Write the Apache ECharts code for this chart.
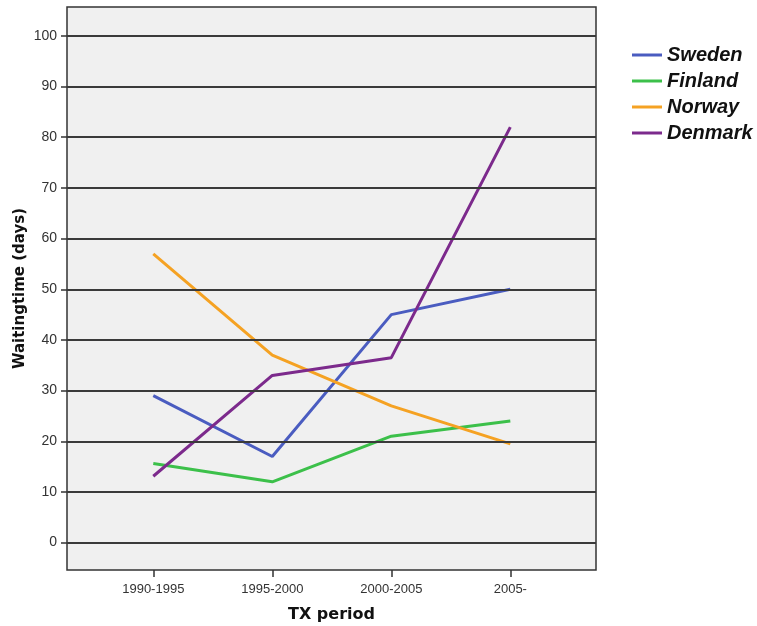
<!DOCTYPE html>
<html>
<head>
<meta charset="utf-8">
<script src="https://cdn.jsdelivr.net/npm/echarts@6/dist/echarts.min.js"></script>
<style>
  html, body { margin: 0; padding: 0; background: #ffffff; }
  #chart { width: 757px; height: 626px; }
</style>
</head>
<body>
<div id="chart"></div>
<script>
// Transplant periods and mean waiting time per country
const periods = ['1990-1995', '1995-2000', '2000-2005', '2005-'];
const sweden  = [29, 17, 45, 50];
const finland = [15.6, 12, 21, 24];
const norway  = [57, 37, 27, 19.5];
const denmark = [13.1, 33, 36.5, 82];
const yTicks  = [0, 10, 20, 30, 40, 50, 60, 70, 80, 90, 100];

const seriesDefs = [
  { name: 'Sweden',  data: sweden,  color: '#4a5cc0' },
  { name: 'Finland', data: finland, color: '#3cc04a' },
  { name: 'Norway',  data: norway,  color: '#f5a223' },
  { name: 'Denmark', data: denmark, color: '#7c2a8c' }
];

const chart = echarts.init(document.getElementById('chart'), null, { renderer: 'canvas' });

chart.setOption({
  backgroundColor: '#ffffff',
  animation: false,
  grid: {
    left: 67, top: 7, width: 529, height: 563,
    outerBoundsMode: 'none', containLabel: false,
    show: true, backgroundColor: '#f0f0f0',
    borderColor: '#333333', borderWidth: 1.5
  },
  legend: {
    orient: 'vertical',
    left: 627, top: 40,
    itemWidth: 30, itemHeight: 3, itemGap: 6,
    icon: 'rect',
    textStyle: {
      fontFamily: 'Liberation Sans', fontSize: 20, fontStyle: 'italic',
      fontWeight: 'bold', color: '#111111'
    },
    data: seriesDefs.map(s => s.name)
  },
  xAxis: {
    type: 'value',
    min: -0.725, max: 3.72,
    name: 'TX period', nameLocation: 'middle', nameGap: 37, nameMoveOverlap: false,
    nameTextStyle: { fontFamily: 'DejaVu Sans', fontSize: 16, fontWeight: 'bold', color: '#111111' },
    splitLine: { show: false },
    axisLine: { show: false, onZero: false },
    axisTick: { show: true, inside: false, customValues: [0, 1, 2, 3], length: 7, lineStyle: { color: '#333333', width: 1.5 } },
    axisLabel: {
      customValues: [0, 1, 2, 3],
      formatter: v => periods[Math.round(v)] || '',
      fontFamily: 'Liberation Sans', fontSize: 13, color: '#333333', margin: 13
    }
  },
  yAxis: {
    type: 'value',
    min: -5.4, max: 105.7,
    name: 'Waitingtime (days)', nameLocation: 'middle', nameGap: 39, nameRotate: 90, nameMoveOverlap: false,
    nameTextStyle: { fontFamily: 'DejaVu Sans', fontSize: 15, fontWeight: 'bold', color: '#111111' },
    axisLine: { show: false, onZero: false },
    axisTick: { show: true, inside: false, customValues: yTicks, length: 6, lineStyle: { color: '#333333', width: 1.5 } },
    axisLabel: {
      customValues: yTicks,
      fontFamily: 'Liberation Sans', fontSize: 14, color: '#333333', margin: 10
    },
    splitLine: { show: false }
  },
  series: [
    // horizontal reference lines at each labelled value
    {
      type: 'line', silent: true, data: [],
      markLine: {
        silent: true, symbol: 'none', label: { show: false },
        lineStyle: { color: '#3a3a3a', width: 1.8, type: 'solid' },
        data: yTicks.map(v => ({ yAxis: v }))
      }
    }
  ].concat(seriesDefs.map(s => ({
    name: s.name,
    type: 'line',
    data: s.data.map((v, i) => [i, v]),
    symbol: 'none',
    color: s.color,
    lineStyle: { color: s.color, width: 3 }
  })))
});
</script>
</body>
</html>
